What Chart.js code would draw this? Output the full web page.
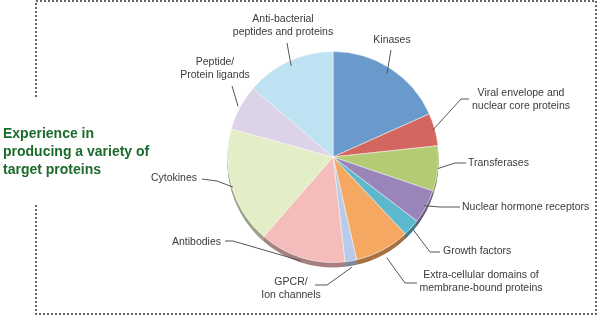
<!DOCTYPE html>
<html>
<head>
<meta charset="utf-8">
<script src="https://cdn.jsdelivr.net/npm/chart.js@4.4.1/dist/chart.umd.min.js"></script>
<style>
  html, body { margin: 0; padding: 0; background: #fff; }
  #wrap { width: 600px; height: 317px; }
</style>
</head>
<body>
<div id="wrap"><canvas id="proteinChart" width="600" height="317"></canvas></div>
<script>
// chart data
const categories = [
    ["Kinases"],
    ["Viral envelope and", "nuclear core proteins"],
    ["Transferases"],
    ["Nuclear hormone receptors"],
    ["Growth factors"],
    ["Extra-cellular domains of", "membrane-bound proteins"],
    ["GPCR/", "Ion channels"],
    ["Antibodies"],
    ["Cytokines"],
    ["Peptide/", "Protein ligands"],
    ["Anti-bacterial", "peptides and proteins"]
];
const shares = [18.3, 5.0, 6.9, 5.2, 2.6, 8.4, 1.8, 13.2, 17.9, 7.0, 13.7];
const sliceColors = [
    "#6a9acb", "#d3665f", "#b3cc74", "#9985ba", "#5cb8cc", "#f4a862",
    "#b9cbe8", "#f4bcbb", "#e4eec6", "#dcd3e8", "#bfe2f2"
];
const titleLines = ["Experience in", "producing a variety of", "target proteins"];

// where each callout goes: elbow point, line end, text anchor, alignment, start radius factor
const callouts = [
    { elbow: null,       end: [391, 50],  text: [392, 40],  align: "center", r: 0.94 },
    { elbow: [461, 99],  end: [469, 99],  text: [521, 93],  align: "center", r: 0.98 },
    { elbow: [455, 163], end: [466, 163], text: [468, 163], align: "left",   r: 1.0 },
    { elbow: [440, 207], end: [460, 207], text: [462, 207], align: "left",   r: 0.98 },
    { elbow: [430, 252], end: [440, 252], text: [443, 251], align: "left",   r: 1.02 },
    { elbow: [405, 283], end: [417, 283], text: [481, 275], align: "center", r: 1.08 },
    { elbow: [327, 285], end: [315, 285], text: [291, 282], align: "center", r: 1.06 },
    { elbow: [233, 241], end: [225, 241], text: [221, 242], align: "right",  r: 1.03 },
    { elbow: [217, 181], end: [202, 179], text: [197, 178], align: "right",  r: 0.99 },
    { elbow: null,       end: [232, 86],  text: [215, 62],  align: "center", r: 1.02 },
    { elbow: null,       end: [287, 43],  text: [283, 19],  align: "center", r: 0.95 }
];

function darken(hex, f) {
    const n = parseInt(hex.slice(1), 16);
    const r = Math.round(((n >> 16) & 255) * f);
    const g = Math.round(((n >> 8) & 255) * f);
    const b = Math.round((n & 255) * f);
    return "rgb(" + r + "," + g + "," + b + ")";
}

// frame + title
const framePlugin = {
    id: "frame",
    beforeDraw(chart) {
        const ctx = chart.ctx;
        ctx.save();
        ctx.strokeStyle = "#333";
        ctx.lineWidth = 1.5;
        ctx.setLineDash([2, 2]);
        ctx.beginPath();
        ctx.moveTo(36, 97);
        ctx.lineTo(36, 1);
        ctx.lineTo(596, 1);
        ctx.lineTo(596, 314);
        ctx.lineTo(36, 314);
        ctx.lineTo(36, 203);
        ctx.stroke();
        ctx.setLineDash([]);
        ctx.fillStyle = "#1b6b2b";
        ctx.font = "bold 14px 'Liberation Sans', Arial, sans-serif";
        ctx.textBaseline = "middle";
        ctx.textAlign = "left";
        titleLines.forEach((t, i) => ctx.fillText(t, 3, 134 + i * 18));
        ctx.restore();
    }
};

// 3d rim under the pie
const rimPlugin = {
    id: "rim",
    beforeDatasetsDraw(chart) {
        const ctx = chart.ctx;
        const meta = chart.getDatasetMeta(0);
        ctx.save();
        for (let d = 5; d >= 1; d--) {
            meta.data.forEach((arc, i) => {
                const p = arc.getProps(["x", "y", "startAngle", "endAngle", "outerRadius"], true);
                ctx.beginPath();
                ctx.moveTo(p.x, p.y + d);
                ctx.arc(p.x, p.y + d, p.outerRadius, p.startAngle, p.endAngle);
                ctx.closePath();
                ctx.fillStyle = darken(sliceColors[i], 0.68);
                ctx.fill();
            });
        }
        ctx.restore();
    }
};

// callout labels with leader lines
const calloutPlugin = {
    id: "callouts",
    afterDatasetsDraw(chart) {
        const ctx = chart.ctx;
        const meta = chart.getDatasetMeta(0);
        ctx.save();
        ctx.strokeStyle = "#555";
        ctx.lineWidth = 1;
        ctx.fillStyle = "#3a3a3a";
        ctx.font = "10.5px 'Liberation Sans', Arial, sans-serif";
        ctx.textBaseline = "middle";
        meta.data.forEach((arc, i) => {
            const c = callouts[i];
            const p = arc.getProps(["x", "y", "startAngle", "endAngle", "outerRadius"], true);
            const mid = (p.startAngle + p.endAngle) / 2;
            const sx = p.x + Math.cos(mid) * p.outerRadius * c.r;
            const sy = p.y + Math.sin(mid) * p.outerRadius * c.r;
            ctx.beginPath();
            ctx.moveTo(sx, sy);
            if (c.elbow) ctx.lineTo(c.elbow[0], c.elbow[1]);
            ctx.lineTo(c.end[0], c.end[1]);
            ctx.stroke();
            ctx.textAlign = c.align;
            chart.data.labels[i].forEach((line, k) => {
                ctx.fillText(line, c.text[0], c.text[1] + k * 13.5);
            });
        });
        ctx.restore();
    }
};

const chartElement = document.getElementById("proteinChart");
new Chart(chartElement.getContext("2d"), {
    type: "pie",
    data: {
        labels: categories,
        datasets: [{
            data: shares,
            backgroundColor: sliceColors,
            borderColor: "rgba(255,255,255,0.55)",
            borderWidth: 1
        }]
    },
    options: {
        responsive: false,
        animation: false,
        layout: {
            padding: { left: 227, right: 161, top: 51, bottom: 54 }
        },
        plugins: {
            legend: { display: false },
            tooltip: { enabled: false }
        }
    },
    plugins: [framePlugin, rimPlugin, calloutPlugin]
});
</script>
</body>
</html>
